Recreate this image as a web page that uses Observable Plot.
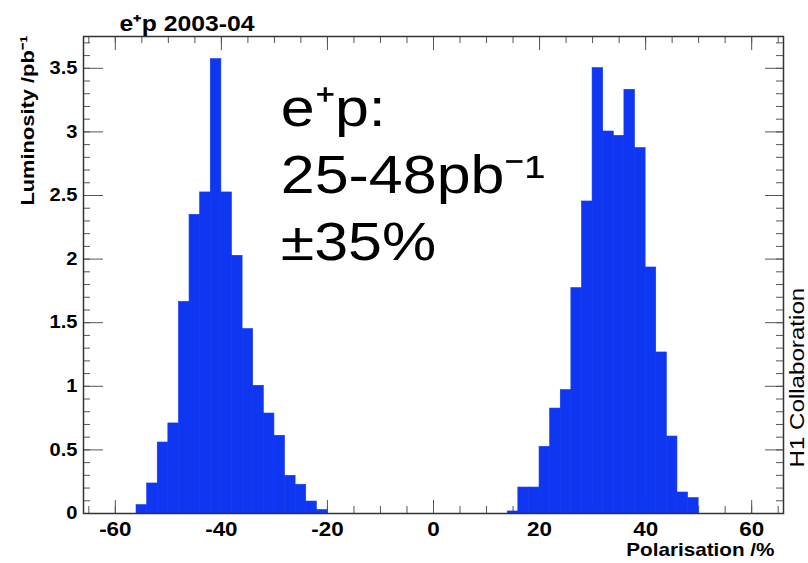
<!DOCTYPE html>
<html>
<head>
<meta charset="utf-8">
<script src="https://cdn.jsdelivr.net/npm/d3@7"></script>
<script src="https://cdn.jsdelivr.net/npm/@observablehq/plot@0.6"></script>
<style>
  html, body { margin: 0; padding: 0; background: #fff; }
</style>
</head>
<body>
<div id="chart"></div>
<script>
// ---- data ----
const leftStarts  = [-56,-54,-52,-50,-48,-46,-44,-42,-40,-38,-36,-34,-32,-30,-28,-26,-24,-22];
const leftValues  = [0.066,0.236,0.558,0.708,1.664,2.348,2.524,3.572,2.524,2.026,1.45,1.004,0.786,0.611,0.296,0.226,0.094,0.027];
const rightStarts = [14,16,18,20,22,24,26,28,30,32,34,36,38,40,42,44,46,48];
const rightValues = [0.016,0.204,0.204,0.524,0.825,0.970,1.772,2.453,3.501,3.003,2.969,3.331,2.873,1.934,1.266,0.605,0.165,0.121];
const binWidth = 2;

const xTicks = [-60,-40,-20,0,20,40,60];
const yTicks = [0,0.5,1,1.5,2,2.5,3,3.5];
const xMinor = d3.range(-65, 66, 5);
const yMinor = d3.range(0, 3.75, 0.1);

const titleText = "e⁺p 2003-04";
const yLabel = "Luminosity /pb⁻¹";
const xLabel = "Polarisation /%";
const sideLabel = "H1 Collaboration";
const noteLines = ["e⁺p:", "25-48pb⁻¹", "±35%"];
const notePos = {x: -28.8, y: 1.99};

const bins = [
  ...leftStarts.map((s, i) => ({x1: s, x2: s + binWidth, y: leftValues[i]})),
  ...rightStarts.map((s, i) => ({x1: s, x2: s + binWidth, y: rightValues[i]}))
];

const W = 808, H = 563;
const mL = 83, mR = 25, mT = 36, mB = 50;
const fw = W - mL - mR, fh = H - mT - mB;
const blue = "#0f37f2";
const tickCol = "#555";

const chart = Plot.plot({
  width: W, height: H,
  marginLeft: mL, marginRight: mR, marginTop: mT, marginBottom: mB,
  style: {fontFamily: "'Liberation Sans', Arial, sans-serif", background: "#fff", color: "#000"},
  x: {domain: [-66, 66]},
  y: {domain: [0, 3.75]},
  marks: [
    // inward ticks (under the bars)
    Plot.tickX(xMinor, {x: d => d, insetTop: fh - 7, stroke: tickCol}),
    Plot.tickX(xTicks, {x: d => d, insetTop: fh - 13, stroke: tickCol}),
    Plot.tickX(xMinor, {x: d => d, insetBottom: fh - 7, stroke: tickCol}),
    Plot.tickX(xTicks, {x: d => d, insetBottom: fh - 14, stroke: tickCol}),
    Plot.tickY(yMinor, {y: d => d, insetRight: fw - 7, stroke: tickCol}),
    Plot.tickY(yTicks, {y: d => d, insetRight: fw - 20, stroke: tickCol}),
    Plot.tickY(yMinor, {y: d => d, insetLeft: fw - 7, stroke: tickCol}),
    Plot.tickY(yTicks, {y: d => d, insetLeft: fw - 18, stroke: tickCol}),
    // histogram
    Plot.rectY(bins, {x1: "x1", x2: "x2", y: "y", fill: blue, stroke: blue, strokeWidth: 0.6}),
    // axes labels
    Plot.axisX(xTicks, {tickSize: 0, tickPadding: 9, tickFormat: d => String(d), fontSize: 19.5, fontWeight: "bold", fontVariant: "normal", label: null}),
    Plot.axisY(yTicks, {tickSize: 0, tickPadding: 6, tickFormat: d => String(d), fontSize: 17.5, fontWeight: "bold", fontVariant: "normal", label: null}),
    Plot.frame({stroke: "#333", strokeWidth: 1.5}),
    // annotations
    Plot.text([titleText], {text: d => d, frameAnchor: "top-left", dx: 36, dy: -6, textAnchor: "start", lineAnchor: "bottom", fontSize: 21.5, fontWeight: "bold"}),
    Plot.text([yLabel], {text: d => d, frameAnchor: "top-left", dx: -50, dy: -1, rotate: -90, textAnchor: "end", lineAnchor: "bottom", fontSize: 19, fontWeight: "bold"}),
    Plot.text([xLabel], {text: d => d, frameAnchor: "bottom-right", dx: -9, dy: 42, textAnchor: "end", lineAnchor: "bottom", fontSize: 18, fontWeight: "bold"}),
    Plot.text([sideLabel], {text: d => d, frameAnchor: "bottom-right", dx: 20, dy: -46, rotate: -90, textAnchor: "start", lineAnchor: "bottom", fontSize: 21}),
    Plot.text([notePos], {x: "x", y: "y", text: () => noteLines.join("\n"), textAnchor: "start", lineAnchor: "bottom", lineHeight: 1.27, fontSize: 53})
  ]
});

// ROOT/slide text is rendered ~15% wider along the reading direction
const stretch = 1.15;
chart.querySelectorAll("text").forEach(t => {
  const tr = t.getAttribute("transform") || "";
  t.setAttribute("transform", `${tr} scale(${stretch},1)`.trim());
});

document.getElementById("chart").appendChild(chart);
</script>
</body>
</html>
